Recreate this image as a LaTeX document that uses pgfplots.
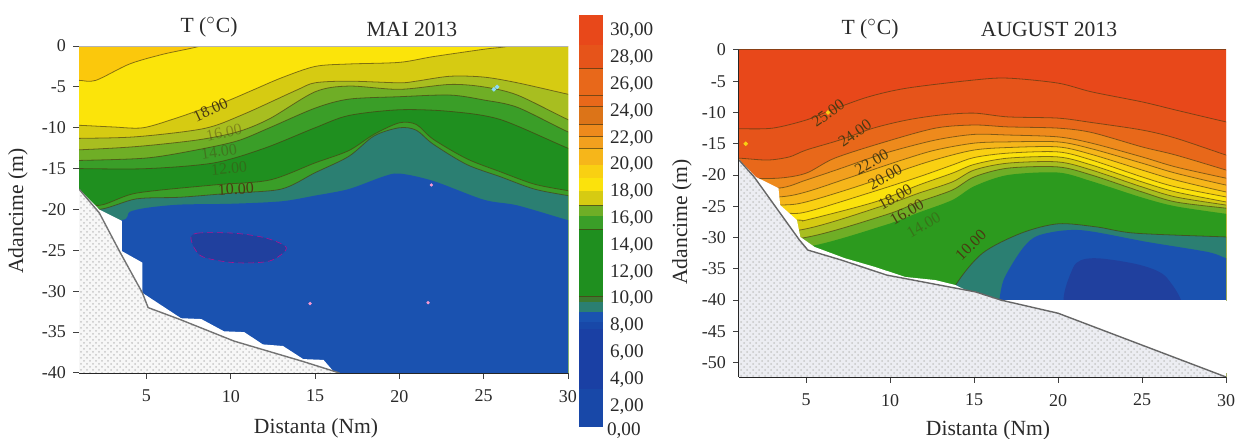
\documentclass[border=0pt]{standalone}
\usepackage{fontspec}
\setmainfont{Liberation Serif}
\usepackage{pgfplots}
\pgfplotsset{compat=1.18}
\usetikzlibrary{patterns}
\definecolor{iso}{HTML}{4A3A12}
\definecolor{txt}{HTML}{2A2A2A}
\definecolor{wteal}{HTML}{2B7F72}
\definecolor{wblue}{HTML}{1A52B0}
\definecolor{wdark}{HTML}{20409E}
\definecolor{g1}{HTML}{1F8F1F}
\definecolor{g2}{HTML}{2C9A1E}
\definecolor{g3}{HTML}{3A9E28}
\definecolor{t20}{HTML}{FBC80C}
\definecolor{t19}{HTML}{FBE40A}
\definecolor{t18}{HTML}{D6CB12}
\definecolor{t17}{HTML}{A8BE20}
\definecolor{t16}{HTML}{6FAE26}
\definecolor{r1}{HTML}{E8481A}
\definecolor{r2}{HTML}{E6541A}
\definecolor{r3}{HTML}{E8681A}
\definecolor{r4}{HTML}{EE8A1C}
\definecolor{r5}{HTML}{F2A01E}
\definecolor{r6}{HTML}{F6B61A}
\definecolor{r7}{HTML}{F9D012}
\definecolor{r8}{HTML}{FBE20C}
\definecolor{cbblue}{HTML}{1848A8}
\definecolor{cbdark}{HTML}{1A40A4}
\definecolor{cbolive}{HTML}{3C7A30}
\definecolor{cbr}{HTML}{DC7418}
\definecolor{gndR}{HTML}{ECEDF2}
\newcommand\band[2]{\addplot[fill=#1,draw=none,smooth,tension=0.5,forget plot] coordinates {#2 (31,-60) (0,-60)};}
\newcommand\iso[1]{\addplot[iso,opacity=0.65,line width=0.4pt,smooth,tension=0.5,forget plot] coordinates {#1};}
\newcommand\bandiso[2]{\band{#1}{#2}\iso{#2}}
\newcommand\lab[4]{\node[font=\fontsize{8}{8}\selectfont,text=iso,rotate=#4,inner sep=0pt] at (axis cs:#1,#2) {#3};}
\newcommand\labf[4]{\node[font=\fontsize{8}{8}\selectfont,text=iso,rotate=#4,inner sep=0pt,opacity=0.4] at (axis cs:#1,#2) {#3};}
\newcommand\cb[3]{\addplot[fill=#1,draw=none,forget plot] coordinates {(0,#2) (1,#2) (1,#3) (0,#3)};}
\newcommand\cbl[1]{\addplot[iso,opacity=0.7,line width=0.5pt,forget plot] coordinates {(0,#1) (1,#1)};}
\pgfplotsset{panel/.style={
  scale only axis, xmin=1, xmax=30,
  axis x line*=bottom, axis y line*=left,
  tick align=outside, major tick length=3pt,
  xtick={5,10,15,20,25,30}, xticklabels={5,10,15,20,25,30},
  tick label style={font=\fontsize{9}{9}\selectfont,text=txt},
  xticklabel style={yshift=-2pt},
  tick style={color=black!75,line width=0.5pt},
}}
\begin{document}
\begin{tikzpicture}[x=0.5pt,y=0.5pt]
\useasboundingbox (0,0) rectangle (1237,439);

% ---------- MAI 2013 ----------
\begin{axis}[panel, at={(39.5pt,33pt)}, anchor=south west, width=244.5pt, height=163.5pt,
  ymin=-40, ymax=0, ytick={0,-5,-10,-15,-20,-25,-30,-35,-40},
  yticklabels={0,-5,-10,-15,-20,-25,-30,-35,-40},
  y axis line style={color=black!45,line width=0.5pt}, x axis line style={color=black!85,line width=0.8pt}]
\addplot[fill=t20,draw=none,forget plot] coordinates {(0,1) (31,1) (31,-60) (0,-60)};
\bandiso{t19}{(0,-4.2)(1,-4.2)(2,-4.2)(4,-2.2)(6,-1.0)(8.2,0)(9.5,1.2)(31,1.2)}
\bandiso{t18}{(0,-9.7)(1,-9.7)(3,-9.9)(4.8,-10)(6.8,-8.8)(8.2,-7.8)(9.7,-6.8)(11.3,-5.4)(13,-3.9)(15,-2.5)(17,-2.2)(20,-2)(22,-1.3)(25,-0.4)(26.5,0)(27.5,1)(31,1)}
\bandiso{t17}{(0,-11.3)(1,-11.3)(4.4,-11.1)(8.4,-10.1)(10.7,-8.4)(13.9,-5.4)(15,-4.5)(17,-4.3)(20,-4.5)(21,-4.3)(23,-3.7)(25,-3.8)(27,-4.5)(30,-5.9)(31,-6.3)}
\bandiso{t16}{(0,-12.7)(1,-12.7)(4.4,-12.3)(8,-11.5)(10.4,-10.5)(12.3,-8.9)(15,-5.6)(17,-4.9)(20,-5.3)(23,-4.7)(25,-5)(27,-6)(30,-9)(31,-9.6)}
\bandiso{g3}{(0,-14)(1,-14)(5,-13.7)(8,-12.7)(10.4,-11.6)(12.3,-10)(15,-7.6)(17,-6.5)(20,-6.2)(23,-6)(25,-6.6)(27,-7.5)(30,-10.5)(31,-11)}
\bandiso{g1}{(0,-15)(1,-15)(5,-15)(9,-14.3)(12,-12.5)(15,-10)(17,-8.5)(20,-7.8)(23,-8)(26,-9)(30,-12.5)(31,-13)}
\bandiso{g3}{(0,-17)(2,-19.5)(4.4,-18)(9,-17)(12.3,-16.4)(15,-14.3)(17,-12.8)(18.5,-10.8)(20,-9.4)(21,-9.6)(22,-11.4)(24,-13.8)(26,-15.4)(28,-16.9)(30,-17.7)(31,-18)}
\bandiso{wteal}{(0,-18)(2,-20)(4.4,-18.7)(7,-18.5)(10,-18.0)(13,-17.5)(15,-15.5)(17,-13.5)(18.5,-11)(20,-10)(21,-10.3)(22,-12)(24,-14.5)(26,-16)(28,-17.5)(30,-18.3)(31,-18.6)}
\band{wblue}{(0,-21)(3.5,-21.3)(4,-20.3)(5,-19.8)(7,-19.4)(10,-19.3)(13,-19)(15,-18.3)(17,-17.5)(19,-16)(20,-15.6)(22,-16.5)(25,-18.8)(27,-19.5)(30,-21.3)(31,-21.7)}
\addplot[fill=wdark,draw=magenta!70!blue,densely dashed,line width=0.3pt,smooth cycle,forget plot] coordinates {(7.65,-23.7)(8,-22.9)(10.2,-22.9)(12.1,-23.5)(13.3,-24.7)(12.3,-26.3)(10.2,-26.5)(8.25,-25.7)};
\addplot[only marks,mark=*,mark size=0.9pt,color=cyan!45!white,draw=none,forget plot] coordinates {(25.8,-5)(25.6,-5.3)};
\addplot[only marks,mark=*,mark size=0.6pt,color=magenta!40!white,draw=none,forget plot] coordinates {(21.9,-17)(14.7,-31.5)(21.7,-31.4)};
\addplot[fill=white,draw=none,forget plot] coordinates {(0,-17.5)(1,-17.5)(2.2,-20)(3.55,-21.4)(3.55,-25.1)(4.76,-26.5)(4.76,-30.2)(7.05,-33.3)(8.25,-33.4)(9.6,-34.9)(10.8,-35)(11.9,-36.5)(13.1,-36.7)(14.3,-38.3)(15.5,-38.4)(16.6,-41)(0,-41)};
\addplot[fill=black!3,draw=none,forget plot] coordinates {(0,-17.5)(1,-17.5)(2.2,-20.4)(3.4,-25.1)(4.76,-30.2)(5.1,-32)(7.05,-33.5)(10.2,-36.1)(14.3,-38.6)(16.45,-40)(0,-40)};
\addplot[pattern=crosshatch dots,pattern color=black!22,draw=none,forget plot] coordinates {(0,-17.5)(1,-17.5)(2.2,-20.4)(3.4,-25.1)(4.76,-30.2)(5.1,-32)(7.05,-33.5)(10.2,-36.1)(14.3,-38.6)(16.45,-40)(0,-40)};
\addplot[black!55,line width=0.7pt,forget plot] coordinates {(1,-17.5)(2.2,-20.4)(3.4,-25.1)(4.76,-30.2)(5.1,-32)(7.05,-33.5)(10.2,-36.1)(14.3,-38.6)(16.45,-40)};
\addplot[black!30,line width=0.4pt,forget plot] coordinates {(1,0)(30,0)};
\lab{8.8}{-7.8}{18.00}{25}
\labf{9.6}{-10.6}{16.00}{12}
\labf{9.3}{-12.9}{14.00}{8}
\labf{9.9}{-15}{12.00}{5}
\lab{10.3}{-17.5}{10.00}{3}
\end{axis}

% ---------- AUGUST 2013 ----------
\begin{axis}[panel, at={(369.5pt,31pt)}, anchor=south west, width=243.5pt, height=163.5pt,
  ymin=-52.3, ymax=0, ytick={0,-5,-10,-15,-20,-25,-30,-35,-40,-45,-50},
  yticklabels={0,-5,-10,-15,-20,-25,-30,-35,-40,-45,-50},
  axis line style={color=black!85,line width=0.7pt}]
\addplot[fill=r1,draw=none,forget plot] coordinates {(0,1) (31,1) (31,-60) (0,-60)};
\bandiso{r2}{(0,-12.6)(1,-12.6)(3,-12.5)(5,-11.2)(6.5,-9.6)(8.7,-7.5)(11,-6.1)(15,-4.8)(17,-4.5)(20,-5.3)(22,-6.7)(25,-8.3)(27,-9.6)(30,-11.5)(31,-12)}
\bandiso{r3}{(0,-17.3)(1,-17.3)(2.7,-17.6)(4,-17.1)(5,-16)(7,-14.4)(9,-12.5)(11,-11.2)(13,-10.4)(15,-10.1)(17,-10.7)(20,-10.9)(22,-11.6)(25,-12.8)(27,-14.1)(30,-16.8)(31,-17.6)}
\bandiso{r4}{(0,-20.5)(1,-20.5)(3.35,-20.5)(5,-19.7)(6.7,-17.3)(9.7,-14.7)(12.7,-12.5)(15,-12)(17,-12.3)(20,-12.5)(22,-13.2)(25,-15.5)(27,-16.8)(30,-19.2)(31,-20)}
\bandiso{r5}{(0,-22.1)(3.35,-22.1)(5,-20.8)(7.1,-18.9)(9.7,-16.5)(12.7,-14.4)(15,-13.5)(17,-13.6)(20,-13.9)(22,-14.9)(25,-17.1)(27,-18.7)(30,-20.5)(31,-21)}
\bandiso{r6}{(0,-23.5)(3.35,-23.5)(5,-22.7)(7.7,-20.3)(10.7,-17.6)(12.7,-16)(15,-14.9)(17,-14.7)(20,-14.7)(22,-15.8)(25,-18.1)(27,-19.7)(30,-21.6)(31,-22)}
\bandiso{r7}{(0,-24.8)(3.5,-24.8)(5,-24.3)(8.3,-21.6)(11.1,-18.9)(13,-17.3)(15,-16)(17,-15.6)(20,-15.5)(22,-16.7)(25,-19.2)(27,-20.8)(30,-22.7)(31,-23)}
\bandiso{r8}{(0,-26.1)(3.6,-26.1)(5,-25.9)(8.7,-22.9)(11.7,-20.3)(13.7,-18.4)(15,-17.2)(17,-16.5)(20,-16.3)(22,-17.6)(25,-20.3)(27,-21.9)(30,-23.5)(31,-24)}
\bandiso{t18}{(0,-27.2)(4.5,-27.2)(5,-27.2)(9.1,-24.3)(11.7,-21.6)(13.7,-19.7)(15,-18.3)(17,-17.3)(20,-17.1)(22,-18.4)(25,-21.1)(27,-22.7)(30,-24.3)(31,-24.8)}
\bandiso{t17}{(0,-28.8)(4.6,-28.8)(9.7,-24.8)(11.7,-22.9)(13.7,-21.1)(15,-19.2)(17,-18.1)(20,-17.9)(22,-19.2)(25,-21.9)(27,-23.5)(30,-24.8)(31,-25.2)}
\bandiso{t16}{(0,-30.1)(4.7,-30.1)(9.7,-26.4)(11.7,-24.3)(13.7,-22.4)(15,-20.3)(17,-18.9)(20,-18.7)(22,-20)(25,-22.7)(27,-24.3)(30,-25.3)(31,-25.6)}
\band{g2}{(0,-32)(5,-31.5)(9.7,-28)(11.7,-26)(13.7,-24)(15,-21.8)(17,-20)(20,-19.6)(22,-21)(25,-23.6)(27,-25)(30,-26.2)(31,-26.5)}
\bandiso{wteal}{(12.8,-44)(13.9,-37.6)(15.5,-32.5)(17.8,-29.3)(20,-27.8)(22.3,-28.3)(24.6,-29.3)(30,-29.9)(31,-30)}
\band{wblue}{(16.4,-42)(16.5,-40)(16.8,-36.5)(17.9,-31.7)(18.9,-29.6)(21.3,-28.8)(25.3,-30.7)(28.9,-32.3)(30,-33.3)(31,-34)}
\addplot[fill=wdark,draw=none,smooth cycle,forget plot] coordinates {(20.7,-42)(20.9,-34.8)(22.1,-33.3)(24.9,-34.4)(26.5,-36.5)(27.1,-42)};
\addplot[only marks,mark=*,mark size=0.9pt,color=r7,draw=none,forget plot] coordinates {(1.4,-15)(6.3,-10)};
\addplot[fill=white,draw=none,forget plot] coordinates {(0,-40)(31,-40)(31,-53)(0,-53)};
\addplot[fill=white,draw=none,forget plot] coordinates {(0,-17.5)(1,-17.5)(1.2,-18.1)(2,-20.3)(3.35,-22.1)(3.45,-24.8)(4.45,-27.2)(4.65,-29.9)(5.5,-31.5)(7.3,-33.3)(9.1,-34.7)(10.9,-36.3)(12.7,-36.8)(13.9,-37.6)(14.5,-38.4)(16.5,-40)(0,-40)};
\addplot[fill=gndR,draw=none,forget plot] coordinates {(0,-17.6)(1,-17.6)(1.9,-20.3)(4.6,-30.4)(5.1,-32)(7.1,-33.6)(9.8,-36)(15.1,-38.7)(16.6,-40)(20,-42.1)(30,-52.3)(0,-52.3)};
\addplot[pattern=crosshatch dots,pattern color=black!22,draw=none,forget plot] coordinates {(0,-17.6)(1,-17.6)(1.9,-20.3)(4.6,-30.4)(5.1,-32)(7.1,-33.6)(9.8,-36)(15.1,-38.7)(16.6,-40)(20,-42.1)(30,-52.3)(0,-52.3)};
\addplot[black!60,line width=0.7pt,forget plot] coordinates {(1,-17.6)(1.9,-20.3)(4.6,-30.4)(5.1,-32)(7.1,-33.6)(9.8,-36)(15.1,-38.7)(16.6,-40)(20,-42.1)(30,-52.3)};
\addplot[iso,line width=0.5pt,opacity=0.6,forget plot] coordinates {(1,0)(30,0)};
\lab{6.3}{-10.1}{25.00}{35}
\lab{7.9}{-13.3}{24.00}{35}
\lab{8.9}{-17.9}{22.00}{30}
\lab{9.7}{-20.3}{20.00}{30}
\lab{10.3}{-23.5}{18.00}{30}
\lab{11}{-25.9}{16.00}{30}
\labf{12}{-28}{14.00}{30}
\lab{14.8}{-31.2}{10.00}{45}
\end{axis}
\fill[white] (1225.4,66) rectangle (1229,138);

% ---------- colour scale ----------
\begin{axis}[scale only axis, at={(289.5pt,6pt)}, anchor=south west, width=12pt, height=206pt,
  xmin=0, xmax=1, ymin=0.45, ymax=31.2, xtick=\empty,
  ytick={2,4,6,8,10,12,14,16,18,20,22,24,26,28,30},
  yticklabel pos=right,
  yticklabels={2{,}00,4{,}00,6{,}00,8{,}00,10{,}00,12{,}00,14{,}00,16{,}00,18{,}00,20{,}00,22{,}00,24{,}00,26{,}00,28{,}00,30{,}00},
  major tick length=0pt,
  tick label style={font=\fontsize{9.6}{9.6}\selectfont,text=txt},
  axis line style={draw=none}]
\cb{r1}{28.96}{31.2}
\cb{r2}{27.2}{28.96}
\cb{r3}{25.2}{27.2}
\cb{r3}{24.35}{25.2}
\cb{cbr}{23}{24.35}
\cb{r4}{22.1}{23}
\cb{r5}{21.25}{22.1}
\cb{r6}{20}{21.25}
\cb{r7}{19}{20}
\cb{r8}{18.1}{19}
\cb{t18}{17}{18.1}
\cb{t16}{16.2}{17}
\cb{g3}{15.2}{16.2}
\cb{g1}{10.2}{15.2}
\cb{cbolive}{9.8}{10.2}
\cb{wteal}{9.05}{9.8}
\cb{wblue}{8.3}{9.05}
\cb{cbblue}{7.8}{8.3}
\cb{cbdark}{3.3}{7.8}
\cb{cbblue}{0.45}{3.3}
\cbl{27.2}\cbl{25.2}\cbl{24.35}\cbl{23}\cbl{22.1}\cbl{21.25}\cbl{17}\cbl{15.2}\cbl{10.2}
\end{axis}
% the 0,00 entry of the scale sits just under the bar
\node[font=\fontsize{9.6}{9.6}\selectfont,text=txt,anchor=west,inner ysep=0pt,inner xsep=3.3pt] at (600,8) {0,00};

% ---------- texts ----------
\def\tf{\fontsize{10.8}{11}\selectfont}
\node[font=\tf,text=txt] at (209,412) {T ($^{\circ}$C)};
\node[font=\tf,text=txt] at (412,410) {MAI 2013};
\node[font=\tf,text=txt] at (870,410) {T ($^{\circ}$C)};
\node[font=\tf,text=txt] at (1049,410) {AUGUST 2013};
\node[font=\tf,text=txt] at (316,11) {Distanta (Nm)};
\node[font=\tf,text=txt] at (988,9) {Distanta (Nm)};
\node[font=\tf,text=txt,rotate=90] at (18,228) {Adancime (m)};
\node[font=\tf,text=txt,rotate=90] at (682,217) {Adancime (m)};
\end{tikzpicture}
\end{document}
